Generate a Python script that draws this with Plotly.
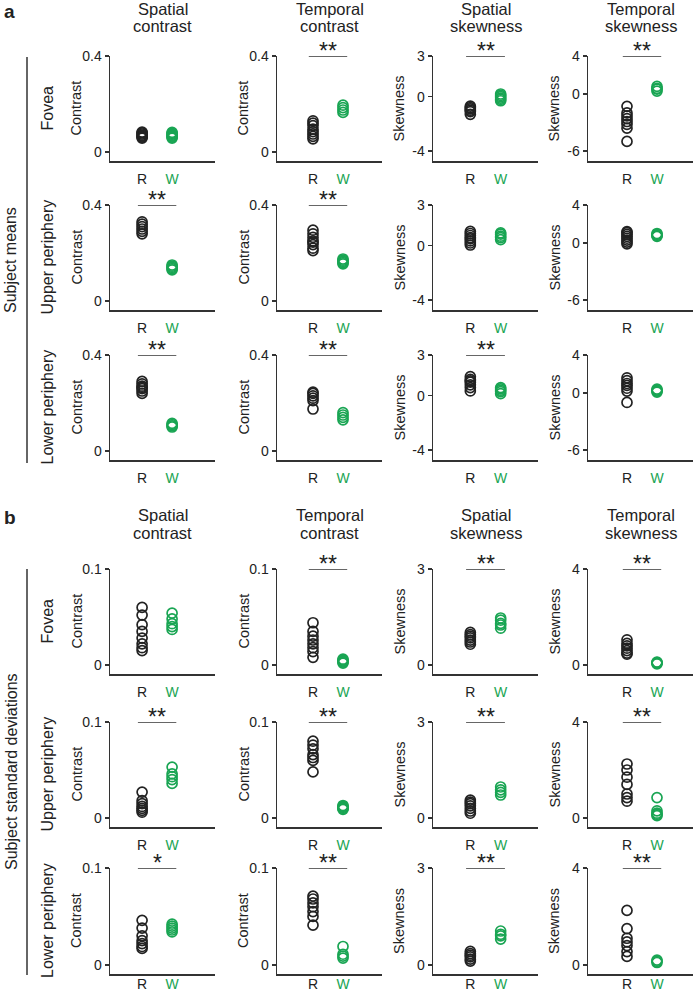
import plotly.graph_objects as go

# ---------------- DATA ----------------
# Panel a: subject means.  Columns: spatial contrast (sc), temporal contrast (tc),
# spatial skewness (ss), temporal skewness (ts).  R / W groups
a_fov_sc_R = [0.058, 0.062, 0.066, 0.07, 0.075, 0.08, 0.083]
a_fov_sc_W = [0.058, 0.062, 0.066, 0.07, 0.074, 0.078, 0.082]
a_fov_tc_R = [0.055, 0.065, 0.075, 0.085, 0.095, 0.11, 0.12, 0.13]
a_fov_tc_W = [0.165, 0.175, 0.185, 0.195]
a_fov_ss_R = [-0.7, -0.8, -0.9, -1.0, -1.1, -1.3]
a_fov_ss_W = [0.2, 0.1, 0.0, -0.1, -0.2, -0.3]
a_fov_ts_R = [-1.3, -2.0, -2.3, -2.6, -2.9, -3.2, -3.6, -5.0]
a_fov_ts_W = [0.3, 0.5, 0.6, 0.8]

a_up_sc_R = [0.28, 0.29, 0.30, 0.31, 0.32, 0.33]
a_up_sc_W = [0.13, 0.135, 0.14, 0.145, 0.15]
a_up_tc_R = [0.21, 0.22, 0.235, 0.245, 0.25, 0.265, 0.28, 0.295]
a_up_tc_W = [0.155, 0.16, 0.165, 0.17, 0.175]
a_up_ss_R = [0.05, 0.2, 0.35, 0.5, 0.6, 0.75, 0.9, 1.05]
a_up_ss_W = [0.45, 0.6, 0.7, 0.85, 0.95]
a_up_ts_R = [-0.1, 0.1, 0.3, 0.5, 0.7, 0.9, 1.1, 1.2]
a_up_ts_W = [0.7, 0.8, 0.9, 1.0]

a_lo_sc_R = [0.24, 0.25, 0.26, 0.265, 0.27, 0.28, 0.29]
a_lo_sc_W = [0.1, 0.105, 0.11, 0.115]
a_lo_tc_R = [0.175, 0.21, 0.22, 0.23, 0.24, 0.245]
a_lo_tc_W = [0.13, 0.14, 0.15, 0.16]
a_lo_ss_R = [0.35, 0.6, 0.8, 1.0, 1.1, 1.2, 1.4]
a_lo_ss_W = [0.15, 0.3, 0.4, 0.5, 0.6]
a_lo_ts_R = [-1.0, 0.2, 0.5, 0.8, 1.0, 1.3, 1.6]
a_lo_ts_W = [0.1, 0.2, 0.3, 0.4]

# Panel b: subject standard deviations
b_fov_sc_R = [0.015, 0.018, 0.022, 0.028, 0.035, 0.042, 0.052, 0.06]
b_fov_sc_W = [0.037, 0.04, 0.043, 0.048, 0.054]
b_fov_tc_R = [0.008, 0.014, 0.018, 0.022, 0.026, 0.03, 0.035, 0.044]
b_fov_tc_W = [0.002, 0.003, 0.004, 0.005, 0.006]
b_fov_ss_R = [0.65, 0.72, 0.78, 0.85, 0.9, 0.95, 1.02]
b_fov_ss_W = [1.15, 1.25, 1.3, 1.4, 1.47]
b_fov_ts_R = [0.45, 0.5, 0.6, 0.7, 0.8, 0.9, 1.05]
b_fov_ts_W = [0.05, 0.08, 0.1, 0.12]

b_up_sc_R = [0.006, 0.008, 0.01, 0.012, 0.015, 0.018, 0.027]
b_up_sc_W = [0.036, 0.04, 0.043, 0.046, 0.053]
b_up_tc_R = [0.048, 0.06, 0.063, 0.066, 0.072, 0.076, 0.08]
b_up_tc_W = [0.009, 0.01, 0.011, 0.012, 0.013]
b_up_ss_R = [0.15, 0.22, 0.3, 0.38, 0.45, 0.5, 0.56]
b_up_ss_W = [0.72, 0.8, 0.88, 0.97]
b_up_ts_R = [0.7, 0.85, 1.0, 1.4, 1.7, 2.0, 2.25]
b_up_ts_W = [0.1, 0.15, 0.2, 0.3, 0.85]

b_lo_sc_R = [0.017, 0.019, 0.022, 0.025, 0.03, 0.038, 0.046]
b_lo_sc_W = [0.034, 0.036, 0.038, 0.04, 0.042]
b_lo_tc_R = [0.041, 0.05, 0.055, 0.06, 0.064, 0.068, 0.071]
b_lo_tc_W = [0.007, 0.009, 0.011, 0.019]
b_lo_ss_R = [0.12, 0.18, 0.25, 0.3, 0.35, 0.42]
b_lo_ss_W = [0.8, 0.9, 0.95, 1.05]
b_lo_ts_R = [0.35, 0.55, 0.8, 0.95, 1.1, 1.5, 2.25]
b_lo_ts_W = [0.1, 0.15, 0.2]

# significance markers (rows: fovea, upper, lower; cols: sc, tc, ss, ts)
sig_a = [["", "**", "**", "**"], ["**", "**", "", ""], ["**", "**", "**", ""]]
sig_b = [["", "**", "**", "**"], ["**", "**", "**", "**"], ["*", "**", "**", "**"]]

col_titles = [("Spatial", "contrast"), ("Temporal", "contrast"),
              ("Spatial", "skewness"), ("Temporal", "skewness")]
row_labels = ["Fovea", "Upper periphery", "Lower periphery"]
y_titles = ["Contrast", "Contrast", "Skewness", "Skewness"]
group_labels = ["R", "W"]

# y ticks per column
a_ticks = [[0, 0.4], [0, 0.4], [-4, 0, 3], [-6, 0, 4]]
a_ticktext = [["0", "0.4"], ["0", "0.4"], ["-4", "0", "3"], ["-6", "0", "4"]]
b_ticks = [[0, 0.1], [0, 0.1], [0, 3], [0, 4]]
b_ticktext = [["0", "0.1"], ["0", "0.1"], ["0", "3"], ["0", "4"]]

panel_a = [[a_fov_sc_R, a_fov_sc_W, a_fov_tc_R, a_fov_tc_W, a_fov_ss_R, a_fov_ss_W, a_fov_ts_R, a_fov_ts_W],
           [a_up_sc_R, a_up_sc_W, a_up_tc_R, a_up_tc_W, a_up_ss_R, a_up_ss_W, a_up_ts_R, a_up_ts_W],
           [a_lo_sc_R, a_lo_sc_W, a_lo_tc_R, a_lo_tc_W, a_lo_ss_R, a_lo_ss_W, a_lo_ts_R, a_lo_ts_W]]
panel_b = [[b_fov_sc_R, b_fov_sc_W, b_fov_tc_R, b_fov_tc_W, b_fov_ss_R, b_fov_ss_W, b_fov_ts_R, b_fov_ts_W],
           [b_up_sc_R, b_up_sc_W, b_up_tc_R, b_up_tc_W, b_up_ss_R, b_up_ss_W, b_up_ts_R, b_up_ts_W],
           [b_lo_sc_R, b_lo_sc_W, b_lo_tc_R, b_lo_tc_W, b_lo_ss_R, b_lo_ss_W, b_lo_ts_R, b_lo_ts_W]]

# ---------------- LAYOUT GEOMETRY (pixels) ----------------
W_PX, H_PX = 696, 994
BLACK = "#222222"
AX = "#333333"
GREEN = "#19a553"
FONT = "Liberation Sans, Arial, sans-serif"

col_x = [(110, 215), (277, 382), (433, 538), (588, 693)]
col_xrange = [[-0.07, 3.43], [-0.2, 3.3], [-0.23, 3.23], [-0.3, 3.2]]
a_rows_y = [(56, 161), (205, 310), (355, 460)]
b_rows_y = [(569, 674), (722, 827), (868, 974)]
a_yrange = [[-0.0375, 0.4], [-0.0375, 0.4], [-4.74, 3], [-7.06, 4]]
b_yrange = [[-0.0094, 0.1], [-0.0094, 0.1], [-0.28, 3], [-0.375, 4]]


def px(x):
    return x / W_PX


def py(y):
    return 1 - y / H_PX


fig = go.Figure()
layout = dict(template="none", width=W_PX, height=H_PX,
              margin=dict(l=0, r=0, t=0, b=0, pad=0, autoexpand=False),
              paper_bgcolor="white", plot_bgcolor="white", showlegend=False,
              font=dict(family=FONT, color=BLACK))
annotations = []
shapes = []

idx = 0
panels = [(panel_a, a_rows_y, a_yrange, a_ticks, a_ticktext, sig_a),
          (panel_b, b_rows_y, b_yrange, b_ticks, b_ticktext, sig_b)]
for pi, (pdata, rows_y, yr, ticks, ticktext, sig) in enumerate(panels):
    for r in range(3):
        for c in range(4):
            idx += 1
            xa = "x" if idx == 1 else f"x{idx}"
            ya = "y" if idx == 1 else f"y{idx}"
            xkey = "xaxis" if idx == 1 else f"xaxis{idx}"
            ykey = "yaxis" if idx == 1 else f"yaxis{idx}"
            x0, x1 = col_x[c]
            y0, y1 = rows_y[r]
            vals_R = pdata[r][2 * c]
            vals_W = pdata[r][2 * c + 1]
            for gi, (vals, colr) in enumerate([(vals_R, BLACK), (vals_W, GREEN)]):
                fig.add_trace(go.Scatter(
                    x=[gi + 1] * len(vals), y=vals, mode="markers",
                    marker=dict(symbol="circle-open", size=10, color=colr,
                                line=dict(width=1.7, color=colr)),
                    xaxis=xa, yaxis=ya, cliponaxis=False, hoverinfo="skip"))
            standoff = -3 if (pi == 1 and r == 2) else 5
            layout[xkey] = dict(domain=[px(x0), px(x1)], anchor=ya, range=col_xrange[c],
                                showline=True, linecolor=AX, linewidth=1.5, ticks="",
                                showgrid=False, zeroline=False, tickvals=[1, 2],
                                ticktext=[group_labels[0],
                                          f"<span style='color:{GREEN}'>{group_labels[1]}</span>"],
                                tickfont=dict(size=14, color=BLACK, family=FONT),
                                ticklabelstandoff=standoff, fixedrange=True, automargin=False)
            layout[ykey] = dict(domain=[py(y1), py(y0)], anchor=xa, range=yr[c],
                                showline=True, linecolor=AX, linewidth=1.5,
                                ticks="outside", ticklen=4, tickwidth=1.5, tickcolor=AX,
                                showgrid=False, zeroline=False,
                                tickvals=ticks[c], ticktext=ticktext[c],
                                tickfont=dict(size=14, color=BLACK, family=FONT),
                                fixedrange=True, automargin=False)
            # y title
            annotations.append(dict(x=px(x0 - 34), y=py((y0 + y1) / 2), xref="paper", yref="paper",
                                    text=y_titles[c], textangle=-90, showarrow=False,
                                    font=dict(size=14.5, color=BLACK, family=FONT),
                                    xanchor="center", yanchor="middle"))
            s = sig[r][c]
            if s:
                top = yr[c][1]
                shapes.append(dict(type="line", xref=xa, yref=ya, x0=0.86, x1=2.14,
                                   y0=top, y1=top, line=dict(color=AX, width=1.3)))
                annotations.append(dict(x=1.5, y=top, xref=xa, yref=ya, text=s,
                                        showarrow=False, xanchor="center", yanchor="bottom",
                                        yshift=-10, font=dict(size=23, color=BLACK, family=FONT)))

# column titles
for ty in [(9, 26), (515, 533)]:
    for c, (l1, l2) in enumerate(col_titles):
        cx = (col_x[c][0] + col_x[c][1]) / 2
        for line, yy in zip((l1, l2), ty):
            annotations.append(dict(x=px(cx), y=py(yy), xref="paper", yref="paper", text=line,
                                    showarrow=False, xanchor="center", yanchor="middle",
                                    font=dict(size=16.5, color=BLACK, family=FONT)))

# row labels
for rows_y in (a_rows_y, b_rows_y):
    for r, (y0, y1) in enumerate(rows_y):
        annotations.append(dict(x=px(47), y=py((y0 + y1) / 2), xref="paper", yref="paper",
                                text=row_labels[r], textangle=-90, showarrow=False,
                                xanchor="center", yanchor="middle",
                                font=dict(size=16, color=BLACK, family=FONT)))

# side labels and brackets
for lab, (yt, yb) in [("Subject means", (57, 463)), ("Subject standard deviations", (569, 975))]:
    annotations.append(dict(x=px(11), y=py((yt + yb) / 2), xref="paper", yref="paper",
                            text=lab, textangle=-90, showarrow=False,
                            xanchor="center", yanchor="middle",
                            font=dict(size=16, color=BLACK, family=FONT)))
    shapes.append(dict(type="line", xref="paper", yref="paper", x0=px(27), x1=px(27),
                       y0=py(yt), y1=py(yb), line=dict(color=AX, width=1.5)))

# panel letters
for lab, yy in [("a", 12), ("b", 517)]:
    annotations.append(dict(x=px(2), y=py(yy), xref="paper", yref="paper", text=f"<b>{lab}</b>",
                            showarrow=False, xanchor="left", yanchor="middle",
                            font=dict(size=19, color=BLACK, family=FONT)))

layout["annotations"] = annotations
layout["shapes"] = shapes
fig.update_layout(**layout)
fig.write_html("out.html", config={"displayModeBar": False, "staticPlot": True},
               post_script="document.body.style.margin='0px';document.body.style.padding='0px';")
